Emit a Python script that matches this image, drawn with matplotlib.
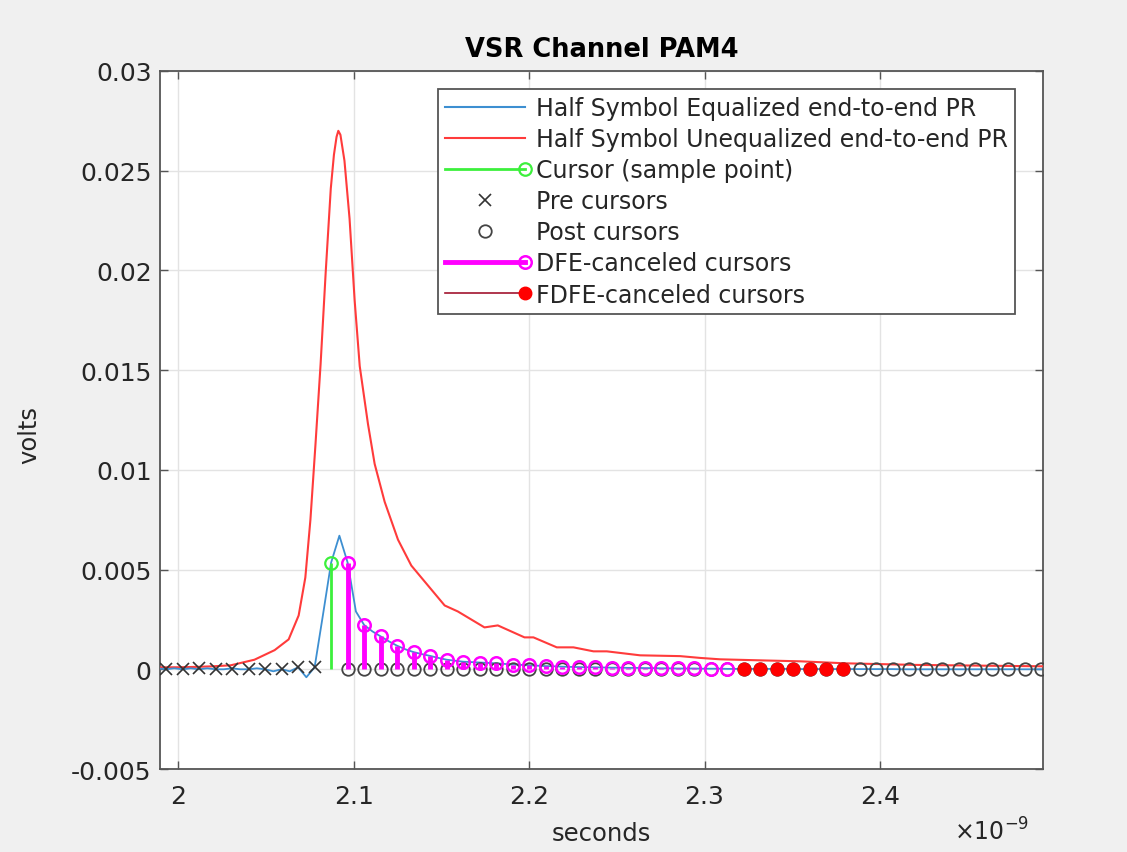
import matplotlib
matplotlib.use("Agg")
import matplotlib.pyplot as plt
import numpy as np
from matplotlib.lines import Line2D
from matplotlib.legend_handler import HandlerLine2D
from matplotlib.ticker import FuncFormatter

plt.rcParams['axes.unicode_minus'] = False

# symbol timing (ns)
ui_ns = 0.00941
cursor_t_ns = 2.0872

# unequalized pulse response (ns, volts)
red_t_ns = [1.9897, 2.000, 2.010, 2.020, 2.030, 2.0435, 2.055, 2.063, 2.0687, 2.0725,
            2.0754, 2.0783, 2.0812, 2.0841, 2.087, 2.0888, 2.0903, 2.0913, 2.0925, 2.0948,
            2.0977, 2.1006, 2.1035, 2.1082, 2.112, 2.1177, 2.1253, 2.1329, 2.1424, 2.1519,
            2.1594, 2.167, 2.1746, 2.1822, 2.1898, 2.1974, 2.2025, 2.2158, 2.2253, 2.2367,
            2.2443, 2.2633, 2.2861, 2.2975, 2.3089, 2.3355, 2.3545, 2.38, 2.42, 2.46, 2.4929]
red_v = [0.0001, 0.0001, 0.00012, 0.00015, 0.0002, 0.00048, 0.00096, 0.0015, 0.0027, 0.0046,
         0.0075, 0.0113, 0.0153, 0.0199, 0.0241, 0.0258, 0.0267, 0.0270, 0.0268, 0.0255,
         0.0226, 0.0185, 0.0152, 0.0123, 0.0103, 0.0084, 0.0065, 0.0052, 0.0042, 0.0032,
         0.0029, 0.0025, 0.0021, 0.0022, 0.0019, 0.0016, 0.0016, 0.0011, 0.0011, 0.0009,
         0.0009, 0.0007, 0.00066, 0.00057, 0.0005, 0.00044, 0.0004, 0.0003, 0.00022, 0.00018,
         0.00015]

# equalized pulse response, half-symbol samples from -21 to +86 half-UI around the cursor
blue_half_idx = list(range(-21, 87))
blue_v = [0.00005, 0.0, 0.00005, 0.0, 0.00005, 0.0, 0.00005, 0.0, 0.0, 0.00005,
          0.0, 0.0, 0.00005, 0.0, -0.0001, 0.0, -0.0001, 0.0001, -0.0004, 0.0001,
          0.0027, 0.00535, 0.0067, 0.00535, 0.0029, 0.00222, 0.0019, 0.00165, 0.0014, 0.00118,
          0.001, 0.00086, 0.00076, 0.00067, 0.00057, 0.00048, 0.00043, 0.00038, 0.00036, 0.00034,
          0.00032, 0.0003, 0.00027, 0.00024, 0.00022, 0.0002, 0.00018, 0.00016, 0.00015, 0.00013,
          0.00012, 0.00011, 0.0001, 0.0001, 0.00009, 0.00008, 0.00008, 0.00007, 0.00007, 0.00006,
          0.00006, 0.00005, 0.00005, 0.00004, 0.00004, 0.00004, 0.00003, 0.00003, 0.00003, 0.00002,
          0.00002, 0.00002, 0.00002, 0.00002, 0.00002, 0.00002, 0.00002, 0.00002, 0.00001, 0.00001,
          0.00001, 0.00001, 0.00001, 0.00001, 0.00001, 0.00001, 0.00001, 0.00001, 0.00001, 0.00001,
          0.0, 0.0, 0.0, 0.0, 0.0, 0.0, 0.0, 0.0, 0.0, 0.0,
          0.0, 0.0, 0.0, 0.0, 0.0, 0.0, 0.0, 0.0]

cursor_v = 0.00535

pre_idx = list(range(-10, 0))
pre_v = [0.0, 0.0, 0.00005, 0.0, 0.0, 0.0, 0.0, 0.0, 0.0001, 0.0001]

dfe_idx = list(range(1, 25))
dfe_v = [0.00535, 0.00222, 0.00165, 0.00118, 0.00086, 0.00067, 0.00048, 0.00038, 0.00034, 0.0003,
         0.00024, 0.0002, 0.00016, 0.00013, 0.00011, 0.0001, 0.00008, 0.00007, 0.00006, 0.00005,
         0.00004, 0.00004, 0.00003, 0.00002]

fdfe_idx = list(range(25, 32))
fdfe_v = [0.00002, 0.00002, 0.00002, 0.00002, 0.00001, 0.00001, 0.00001]

post_idx = list(range(1, 44))
post_v = [0.0] * 31 + [0.00001, 0.00001, 0.00001, 0.0, 0.0, 0.0, 0.0, 0.0, 0.0, 0.0, 0.0, 0.0]


def to_sec(idx, step):
    return (cursor_t_ns + np.array(idx) * step) * 1e-9


class EndMarker(HandlerLine2D):
    # MATLAB-style legend: marker at the right end of the line
    def create_artists(self, *args, **kwargs):
        arts = super().create_artists(*args, **kwargs)
        for a in arts:
            a.set_markevery([2])
        return arts


c_blue = '#3d8fd1'
c_red = '#ff3b3b'
c_green = '#3cf03c'
c_mag = '#ff00ff'
c_fdfe = '#a2142f'
txt = '#262626'

fig = plt.figure(figsize=(11.27, 8.53), dpi=100, facecolor='#f0f0f0')
ax = fig.add_axes([0.142, 0.0973, 0.7835, 0.8183])

ax.plot(np.array(red_t_ns) * 1e-9, red_v, color=c_red, lw=1.5, zorder=3)
ax.plot(to_sec(blue_half_idx, ui_ns / 2), blue_v, color=c_blue, lw=1.3, zorder=3)

# cursor stem
t_c = cursor_t_ns * 1e-9
ax.vlines(t_c, 0, cursor_v, color=c_green, lw=2.0, zorder=4)
ax.plot([t_c], [cursor_v], 'o', mfc='none', mec=c_green, ms=9, mew=1.6, zorder=5)

# pre / post cursors
ax.plot(to_sec(pre_idx, ui_ns), pre_v, 'x', color='#333333', ms=8, mew=1.2, zorder=4)
ax.plot(to_sec(post_idx, ui_ns), post_v, 'o', mfc='none', mec='#444444', ms=9, mew=1.3, zorder=4)

# DFE-canceled cursors
t_dfe = to_sec(dfe_idx, ui_ns)
ax.vlines(t_dfe, 0, dfe_v, color=c_mag, lw=3.5, zorder=5)
ax.plot(t_dfe, dfe_v, 'o', mfc='none', mec=c_mag, ms=9, mew=1.8, zorder=6)

# FDFE-canceled cursors
t_fdfe = to_sec(fdfe_idx, ui_ns)
ax.vlines(t_fdfe, 0, fdfe_v, color=c_fdfe, lw=1.2, zorder=5)
ax.plot(t_fdfe, fdfe_v, 'o', color='red', ms=9, zorder=6)

ax.set_xlim(1.9897e-9, 2.4929e-9)
ax.set_ylim(-0.005, 0.03)
ax.set_xticks(np.array([2.0, 2.1, 2.2, 2.3, 2.4]) * 1e-9)
ax.set_yticks([-0.005, 0, 0.005, 0.01, 0.015, 0.02, 0.025, 0.03])
ax.xaxis.set_major_formatter(FuncFormatter(lambda v, p: '%g' % round(v * 1e9, 6)))
ax.yaxis.set_major_formatter(FuncFormatter(lambda v, p: '%g' % round(v, 6)))
ax.tick_params(direction='in', top=True, right=True, length=6, width=1,
               labelsize=18, labelcolor=txt, color='#555555', pad=6)
ax.tick_params(axis='x', pad=11)
ax.grid(True, color='#e3e3e3', lw=1.0)
ax.set_axisbelow(True)
for s in ax.spines.values():
    s.set_color('#555555')
    s.set_linewidth(1.3)

ax.set_title('VSR Channel PAM4', fontsize=18.5, fontweight='bold', color='black', pad=11)
ax.set_xlabel('seconds', fontsize=17.5, color=txt)
ax.set_ylabel('volts', fontsize=17.5, color=txt)
ax.xaxis.set_label_coords(0.5, -0.075)
ax.yaxis.set_label_coords(-0.135, 0.48)
fig.text(0.88, 0.014, r'$\times10^{-9}$', fontsize=17, color=txt, ha='center')

handles = [
    Line2D([], [], color=c_blue, lw=1.5),
    Line2D([], [], color=c_red, lw=1.5),
    Line2D([], [], color=c_green, lw=2.0, marker='o', mfc='none', mec=c_green, ms=9, mew=1.6),
    Line2D([], [], ls='none', marker='x', color='#333333', ms=8, mew=1.2),
    Line2D([], [], ls='none', marker='o', mfc='none', mec='#444444', ms=9, mew=1.3),
    Line2D([], [], color=c_mag, lw=3.5, marker='o', mfc='none', mec=c_mag, ms=9, mew=1.8),
    Line2D([], [], color=c_fdfe, lw=1.2, marker='o', mfc='red', mec='red', ms=9),
]
labels = ['Half Symbol Equalized end-to-end PR',
          'Half Symbol Unequalized end-to-end PR',
          'Cursor (sample point)',
          'Pre cursors',
          'Post cursors',
          'DFE-canceled cursors',
          'FDFE-canceled cursors']
hmap = {handles[i]: EndMarker() for i in (0, 1, 2, 5, 6)}
leg = ax.legend(handles, labels, loc='upper right', bbox_to_anchor=(0.9006, 0.8945),
                bbox_transform=fig.transFigure, borderaxespad=0, fontsize=17,
                handlelength=3.4, handletextpad=0.45, labelspacing=0.3, numpoints=1,
                fancybox=False, framealpha=1, edgecolor='#555555', handler_map=hmap,
                borderpad=0.3)
leg.get_frame().set_linewidth(1.3)
for t in leg.get_texts():
    t.set_color(txt)

fig.savefig('out.png', dpi=100, facecolor=fig.get_facecolor())
